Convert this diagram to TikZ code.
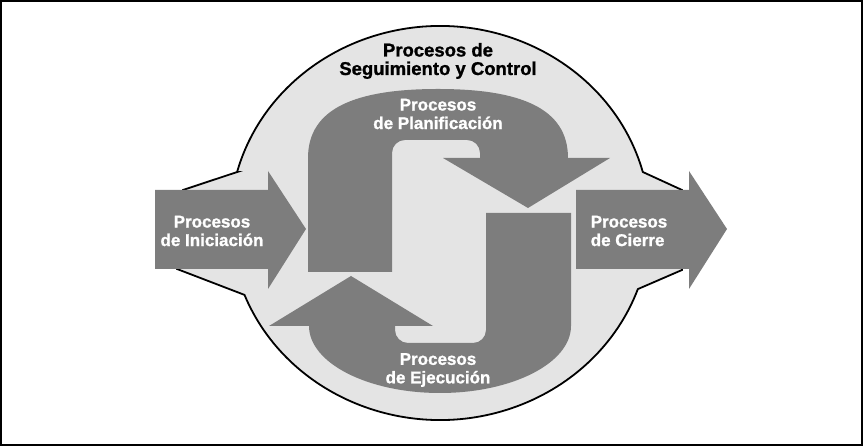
\documentclass[tikz,border=0pt]{standalone}
\usepackage{fontspec}
\setmainfont{Liberation Sans}[BoldFeatures={FakeBold=1.2}]
\usepackage{tikz}
\usetikzlibrary{positioning}

\definecolor{lightbg}{RGB}{228,228,228}
\definecolor{arrowgray}{RGB}{125,125,125}

\begin{document}
\begin{tikzpicture}
    [x=1pt, y=1pt,
    outline/.style={draw=black, line width=1.8pt, fill=lightbg, line join=miter},
    band/.style={fill=arrowgray},
    whitetext/.style={font=\bfseries\fontsize{17}{18.5}\selectfont, text=white, align=center},
    headtext/.style={font=\bfseries\fontsize{18.5}{18.5}\selectfont, align=center}]

    \useasboundingbox (0,0) rectangle (863,446);
    \draw[line width=2pt] (1,1) rectangle (862,445);

    %Shapes
    \draw[outline] (237.2,274) -- (183,256) -- (177,177) -- (244.5,151.1)
        arc[start angle=201.4, end angle=340.4, x radius=210, y radius=197]
        -- (682,176) -- (682,256) -- (642.8,274)
        arc[start angle=15, end angle=165, x radius=210, y radius=197] -- cycle;

    \fill[band] (155,177) -- (268,177) -- (268,157) -- (306,217) -- (268,275)
        -- (268,256) -- (155,256) -- cycle;
    \fill[band] (576,177) -- (689,177) -- (689,157) -- (727,217) -- (689,275)
        -- (689,256) -- (576,256) -- cycle;

    % planificacion
    \fill[band] (308,174) -- (392,174) -- (392,293) arc[start angle=180, end angle=90, radius=13]
        -- (467,306) arc[start angle=90, end angle=0, radius=13] -- (480,288)
        -- (443,288) -- (528,238) -- (610,288) -- (568,288)
        .. controls (568,338) and (520,357) .. (438,357)
        .. controls (356,357) and (308,338) .. (308,288) -- cycle;
    % ejecucion
    \fill[band] (571,233) -- (486,233) -- (486,116) arc[start angle=0, end angle=-90, radius=13]
        -- (408,103) arc[start angle=270, end angle=180, radius=13] -- (395,120)
        -- (433,120) -- (351,170) -- (269,120) -- (309,120)
        arc[start angle=180, end angle=360, x radius=131, y radius=67] -- cycle;

    %Nodes
    \node[headtext](control) at (438,385) {Procesos de\\Seguimiento y Control};
    \node[whitetext](plan) at (438,332) {Procesos\\de Planificación};
    \node[whitetext](exec) at (438,76) {Procesos\\de Ejecución};
    \node[whitetext](init) at (212,215) {Procesos\\de Iniciación};
    \node[whitetext, align=left](close) at (629,215) {Procesos\\de Cierre};
\end{tikzpicture}
\end{document}
